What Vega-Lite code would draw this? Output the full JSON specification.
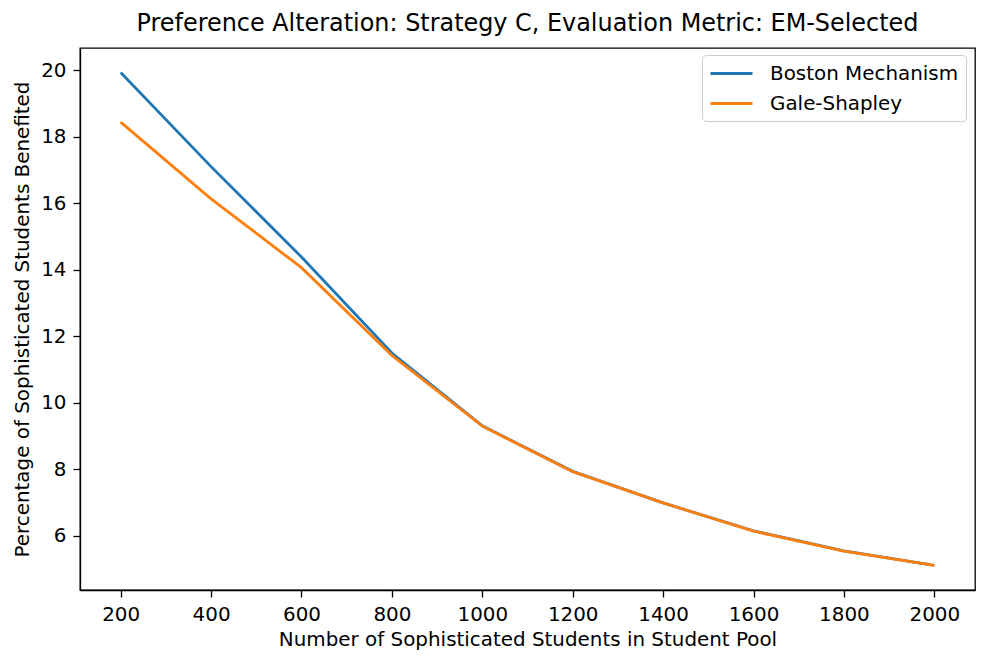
{
  "$schema": "https://vega.github.io/schema/vega-lite/v6.json",
  "width": 895,
  "height": 542,
  "autosize": {"type": "none"},
  "padding": {"left": 80, "top": 48, "right": 13, "bottom": 73},
  "background": "white",
  "title": {
    "text": "Preference Alteration: Strategy C, Evaluation Metric: EM-Selected",
    "font": "DejaVu Sans",
    "fontSize": 23.9,
    "fontWeight": "normal",
    "color": "#000",
    "anchor": "middle",
    "offset": 12
  },
  "data": {
    "values": [
      {"n": 200, "pct": 19.93, "mechanism": "Boston Mechanism"},
      {"n": 400, "pct": 17.1, "mechanism": "Boston Mechanism"},
      {"n": 600, "pct": 14.38, "mechanism": "Boston Mechanism"},
      {"n": 800, "pct": 11.49, "mechanism": "Boston Mechanism"},
      {"n": 1000, "pct": 9.3, "mechanism": "Boston Mechanism"},
      {"n": 1200, "pct": 7.93, "mechanism": "Boston Mechanism"},
      {"n": 1400, "pct": 6.98, "mechanism": "Boston Mechanism"},
      {"n": 1600, "pct": 6.14, "mechanism": "Boston Mechanism"},
      {"n": 1800, "pct": 5.54, "mechanism": "Boston Mechanism"},
      {"n": 2000, "pct": 5.1, "mechanism": "Boston Mechanism"},
      {"n": 200, "pct": 18.44, "mechanism": "Gale-Shapley"},
      {"n": 400, "pct": 16.13, "mechanism": "Gale-Shapley"},
      {"n": 600, "pct": 14.06, "mechanism": "Gale-Shapley"},
      {"n": 800, "pct": 11.42, "mechanism": "Gale-Shapley"},
      {"n": 1000, "pct": 9.29, "mechanism": "Gale-Shapley"},
      {"n": 1200, "pct": 7.92, "mechanism": "Gale-Shapley"},
      {"n": 1400, "pct": 6.98, "mechanism": "Gale-Shapley"},
      {"n": 1600, "pct": 6.13, "mechanism": "Gale-Shapley"},
      {"n": 1800, "pct": 5.53, "mechanism": "Gale-Shapley"},
      {"n": 2000, "pct": 5.1, "mechanism": "Gale-Shapley"}
    ]
  },
  "mark": {"type": "line", "strokeWidth": 2.8, "clip": true},
  "encoding": {
    "x": {
      "field": "n",
      "type": "quantitative",
      "scale": {"domain": [110, 2090], "nice": false, "zero": false},
      "axis": {
        "values": [200, 400, 600, 800, 1000, 1200, 1400, 1600, 1800, 2000],
        "format": "d",
        "title": "Number of Sophisticated Students in Student Pool",
        "grid": false
      }
    },
    "y": {
      "field": "pct",
      "type": "quantitative",
      "scale": {"domain": [4.36, 20.67], "nice": false, "zero": false},
      "axis": {
        "values": [6, 8, 10, 12, 14, 16, 18, 20],
        "format": "d",
        "title": "Percentage of Sophisticated Students Benefited",
        "grid": false
      }
    },
    "color": {
      "field": "mechanism",
      "type": "nominal",
      "scale": {"domain": ["Boston Mechanism", "Gale-Shapley"], "range": ["#1f77b4", "#ff7f0e"]},
      "legend": {
        "title": null,
        "orient": "none",
        "legendX": 622,
        "legendY": 7,
        "symbolType": "M-1,0H3.2",
        "symbolSize": 400,
        "symbolStrokeWidth": 2.8,
        "labelFont": "DejaVu Sans",
        "labelFontSize": 19.9,
        "labelLimit": 400,
        "labelColor": "#000",
        "labelOffset": 38,
        "rowPadding": 8,
        "padding": 7,
        "strokeColor": "#cccccc",
        "fillColor": "white",
        "cornerRadius": 4
      }
    }
  },
  "config": {
    "view": {"stroke": "#000", "strokeWidth": 1.3},
    "axis": {
      "domainColor": "#000",
      "domainWidth": 1.3,
      "tickColor": "#000",
      "tickWidth": 1.3,
      "tickSize": 7,
      "labelPadding": 7,
      "labelFont": "DejaVu Sans",
      "labelFontSize": 19.9,
      "labelColor": "#000",
      "titleFont": "DejaVu Sans",
      "titleFontSize": 19.9,
      "titleFontWeight": "normal",
      "titleColor": "#000"
    },
    "axisX": {"titlePadding": 6},
    "axisY": {"titlePadding": 8}
  }
}
